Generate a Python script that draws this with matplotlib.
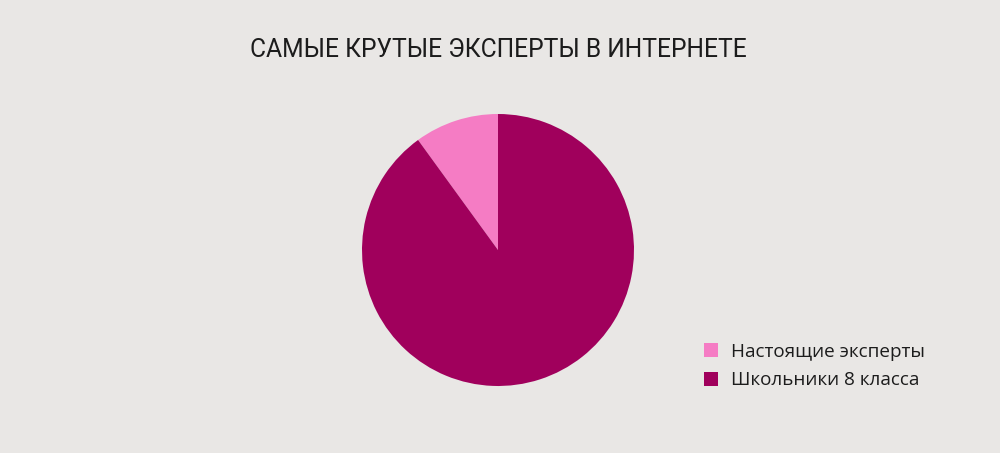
import matplotlib
matplotlib.use("Agg")
import matplotlib.pyplot as plt

labels = ["Настоящие эксперты", "Школьники 8 класса"]
values = [10, 90]
colors = ["#F57CC4", "#A0005C"]
title = "САМЫЕ КРУТЫЕ ЭКСПЕРТЫ В ИНТЕРНЕТЕ"

bg = "#E9E7E5"
fig = plt.figure(figsize=(10, 4.53), dpi=100, facecolor=bg)

# pie axes: center (498, 250) px, radius ~135 px
cx, cy, r = 498, 250, 136
ax = fig.add_axes([(cx - r) / 1000, (453 - cy - r) / 453, 2 * r / 1000, 2 * r / 453])
ax.set_facecolor("none")
wedges, _ = ax.pie(values, colors=colors, startangle=90, counterclock=True,
                   radius=1, wedgeprops=dict(linewidth=0))
ax.set_xlim(-1, 1)
ax.set_ylim(-1, 1)
ax.set_aspect("auto")
ax.axis("off")

fig.text(0.498, 1 - 50 / 453, title, ha="center", va="center",
         fontsize=17.7, color="#1c1c1c", family=["Roboto", "DejaVu Sans"])

fig.legend(wedges, labels, loc="upper left",
           bbox_to_anchor=(0.687, 1 - 326 / 453), frameon=False,
           prop={"family": ["Open Sans", "DejaVu Sans"], "size": 13.6},
           labelcolor="#1c1c1c", handlelength=0.75, handleheight=0.75,
           handletextpad=0.7, labelspacing=0.55)

fig.savefig("out.png", dpi=100, facecolor=bg)
